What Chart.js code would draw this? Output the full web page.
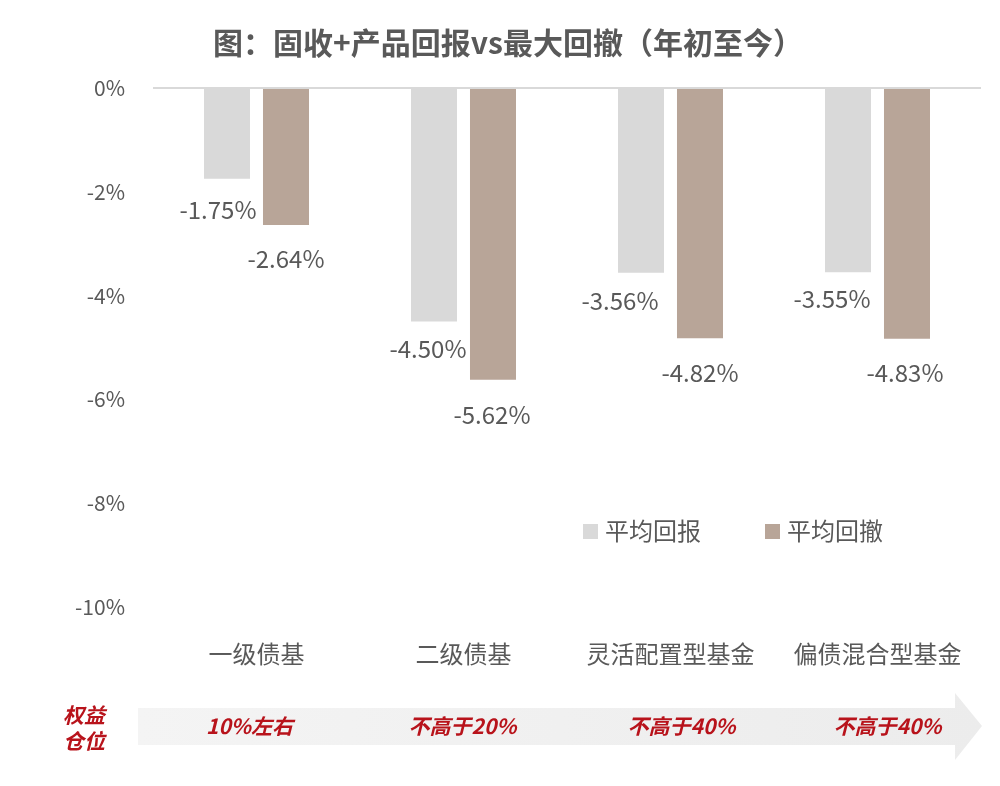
<!DOCTYPE html>
<html>
<head>
<meta charset="utf-8">
<script src="https://cdn.jsdelivr.net/npm/chart.js@4.4.0/dist/chart.umd.min.js"></script>
<style>
  html, body { margin: 0; padding: 0; background: #fff; }
  #wrap { width: 1000px; height: 786px; }
</style>
</head>
<body>
<div id="wrap"><canvas id="chart"></canvas></div>
<script>
const titleText = '图：固收+产品回报vs最大回撤（年初至今）';
const categories = ['一级债基', '二级债基', '灵活配置型基金', '偏债混合型基金'];
const avgReturn = [-1.75, -4.50, -3.56, -3.55];   // 平均回报
const avgDrawdown = [-2.64, -5.62, -4.82, -4.83]; // 平均回撤
const seriesNames = ['平均回报', '平均回撤'];
const equityLabel = ['权益', '仓位'];
const equityShare = ['10%左右', '不高于20%', '不高于40%', '不高于40%'];

const FONT = '"Noto Sans CJK SC", "Noto Sans", sans-serif';
const TEXT = '#595959';
const colors = ['#d9d9d9', '#b8a598'];

// labels under each bar, title, legend and the equity arrow
const decor = {
  id: 'decor',
  afterDatasetsDraw(chart) {
    const ctx = chart.ctx;
    // label nudges, as placed by hand in the original
    const dx = [[-9, -6, -21, -16], [0, -1, 0, -2]];
    const dy = [[31, 27, 28, 27], [34, 35, 35, 34]];
    ctx.save();
    ctx.fillStyle = TEXT;
    ctx.font = '24px ' + FONT;
    ctx.textAlign = 'center';
    ctx.textBaseline = 'middle';
    chart.data.datasets.forEach((ds, i) => {
      chart.getDatasetMeta(i).data.forEach((bar, j) => {
        ctx.fillText(ds.data[j].toFixed(2) + '%', bar.x + dx[i][j], bar.y + dy[i][j]);
      });
    });
    ctx.restore();
  },
  afterDraw(chart) {
    const ctx = chart.ctx;
    const xs = chart.scales.x;
    ctx.save();
    // title
    ctx.fillStyle = TEXT;
    ctx.font = 'bold 30px ' + FONT;
    ctx.textAlign = 'center';
    ctx.textBaseline = 'middle';
    ctx.fillText(titleText, 508, 43);

    // legend
    ctx.font = '24px ' + FONT;
    ctx.textAlign = 'left';
    const lx = [583, 765];
    seriesNames.forEach((name, i) => {
      ctx.fillStyle = colors[i];
      ctx.fillRect(lx[i], 524, 15, 15);
      ctx.fillStyle = TEXT;
      ctx.fillText(name, lx[i] + 22, 531);
    });

    // equity arrow band
    const grad = ctx.createLinearGradient(138, 0, 982, 0);
    grad.addColorStop(0, '#f4f4f4');
    grad.addColorStop(1, '#ececec');
    ctx.fillStyle = grad;
    ctx.beginPath();
    ctx.moveTo(138, 708);
    ctx.lineTo(955, 708);
    ctx.lineTo(955, 693);
    ctx.lineTo(982, 726);
    ctx.lineTo(955, 760);
    ctx.lineTo(955, 745);
    ctx.lineTo(138, 745);
    ctx.closePath();
    ctx.fill();

    ctx.fillStyle = '#b8131b';
    ctx.font = 'italic bold 21px ' + FONT;
    ctx.textAlign = 'center';
    ctx.fillText(equityLabel[0], 84, 715);
    ctx.fillText(equityLabel[1], 84, 741);
    const ex = [-7, -1, 11, 10];
    equityShare.forEach((t, j) => {
      ctx.fillText(t, xs.getPixelForValue(j) + ex[j], 726);
    });
    ctx.restore();
  }
};

new Chart(document.getElementById('chart'), {
  type: 'bar',
  data: {
    labels: categories,
    datasets: [
      { label: seriesNames[0], data: avgReturn, backgroundColor: colors[0] },
      { label: seriesNames[1], data: avgDrawdown, backgroundColor: colors[1] }
    ]
  },
  options: {
    responsive: true,
    maintainAspectRatio: false,
    animation: false,
    categoryPercentage: 0.57,
    barPercentage: 0.78,
    layout: { padding: { top: 88, left: 3, right: 19, bottom: 109 } },
    plugins: {
      legend: { display: false },
      title: { display: false },
      tooltip: { enabled: false }
    },
    scales: {
      x: {
        grid: { display: false },
        border: { display: false },
        ticks: { color: TEXT, font: { family: FONT, size: 24 }, padding: 24 },
        afterFit(s) { s.height = 70; }
      },
      y: {
        min: -10,
        max: 0,
        grid: {
          drawTicks: false,
          color: c => c.tick && c.tick.value === 0 ? '#d9d9d9' : 'rgba(0,0,0,0)',
          lineWidth: 2
        },
        border: { display: false },
        ticks: {
          stepSize: 2,
          color: TEXT,
          padding: 28,
          font: { family: FONT, size: 21 },
          callback: v => v + '%'
        },
        afterFit(s) { s.width = 150; }
      }
    }
  },
  plugins: [decor]
});
</script>
</body>
</html>
